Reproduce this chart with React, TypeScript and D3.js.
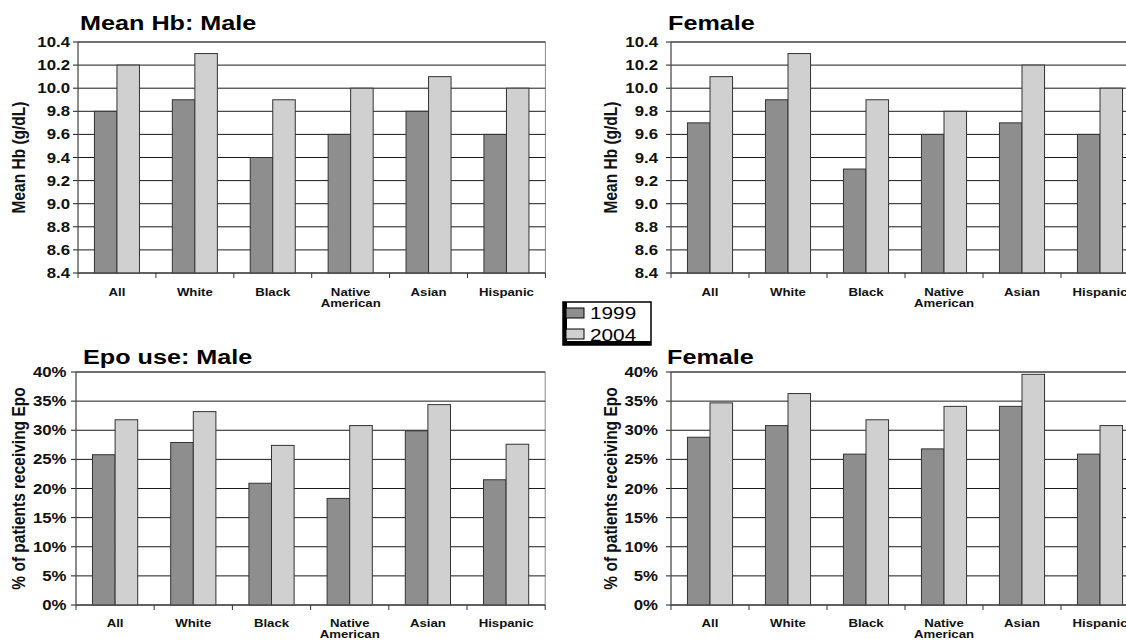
import React from "react";
import * as d3 from "d3";

const categories = ["All", "White", "Black", "Native\nAmerican", "Asian", "Hispanic"];
const years = ["1999", "2004"];

const hbMale1999 = [9.8, 9.9, 9.4, 9.6, 9.8, 9.6];
const hbMale2004 = [10.2, 10.3, 9.9, 10.0, 10.1, 10.0];
const hbFemale1999 = [9.7, 9.9, 9.3, 9.6, 9.7, 9.6];
const hbFemale2004 = [10.1, 10.3, 9.9, 9.8, 10.2, 10.0];

const epoMale1999 = [0.258, 0.279, 0.209, 0.183, 0.299, 0.215];
const epoMale2004 = [0.318, 0.332, 0.274, 0.308, 0.344, 0.276];
const epoFemale1999 = [0.288, 0.308, 0.259, 0.268, 0.341, 0.259];
const epoFemale2004 = [0.347, 0.363, 0.318, 0.341, 0.396, 0.308];

const hbTicks = [8.4, 8.6, 8.8, 9.0, 9.2, 9.4, 9.6, 9.8, 10.0, 10.2, 10.4];
const epoTicks = [0, 0.05, 0.1, 0.15, 0.2, 0.25, 0.3, 0.35, 0.4];

const FONT = "'Liberation Sans', Arial, Helvetica, sans-serif";
const SX = 1.2;
const C1999 = "#8e8e8e";
const C2004 = "#d0d0d0";

type PanelProps = {
  title: string;
  yLabel: string;
  s1999: number[];
  s2004: number[];
  ticks: number[];
  domain: [number, number];
  fmt: (v: number) => string;
  left: number;
  bandW: number;
  top: number;
  bottom: number;
  tickLabelGap: number;
  yLabelX: number;
  titleX: number;
  titleY: number;
  catY: number;
};

function Panel(p: PanelProps) {
  const right = p.left + p.bandW * categories.length;
  const x = d3.scaleBand<string>().domain(categories).range([p.left, right]).padding(0);
  const B = x.bandwidth();
  const w = B / 3.46;
  const y = d3.scaleLinear().domain(p.domain).range([p.bottom, p.top]);
  const sub = d3.scaleBand<string>().domain(years).range([0, 2 * w]).padding(0);
  const series = [p.s1999, p.s2004];
  const colors = [C1999, C2004];
  return (
    <g>
      <rect x={p.left} y={p.top} width={right - p.left} height={p.bottom - p.top} fill="#fff" stroke="#8a8a8a" strokeWidth={1} />
      {p.ticks.map((t, i) => (
        <g key={"g" + i}>
          <line x1={p.left - 5} x2={right} y1={y(t)} y2={y(t)} stroke="#1a1a1a" strokeWidth={1} />
          <text
            transform={`translate(${p.left - p.tickLabelGap},${y(t) + 5}) scale(${SX},1)`}
            textAnchor="end"
            fontFamily={FONT}
            fontWeight="bold"
            fontSize={14}
            fill="#111"
          >
            {p.fmt(t)}
          </text>
        </g>
      ))}
      {categories.map((c, ci) =>
        series.map((s, si) => {
          const x0 = (x(c) as number) + (B - 2 * w) / 2 + (sub(years[si]) as number);
          return (
            <rect
              key={c + si}
              x={x0}
              y={y(s[ci])}
              width={sub.bandwidth()}
              height={p.bottom - y(s[ci])}
              fill={colors[si]}
              stroke="#333"
              strokeWidth={1}
            />
          );
        })
      )}
      <line x1={p.left} x2={p.left} y1={p.top} y2={p.bottom} stroke="#555" strokeWidth={1} />
      <line x1={p.left} x2={right} y1={p.bottom} y2={p.bottom} stroke="#555" strokeWidth={1} />
      {categories.concat(["end"]).map((c, i) => {
        const xx = p.left + i * B;
        return <line key={"t" + i} x1={xx} x2={xx} y1={p.bottom} y2={p.bottom + 5} stroke="#333" strokeWidth={1} />;
      })}
      {categories.map((c) => {
        const cx = (x(c) as number) + B / 2;
        const lines = c.split("\n");
        return lines.map((ln, li) => (
          <text
            key={c + li}
            transform={`translate(${cx},${p.catY + li * 11}) scale(${SX},1)`}
            textAnchor="middle"
            fontFamily={FONT}
            fontWeight="bold"
            fontSize={11}
            fill="#111"
          >
            {ln}
          </text>
        ));
      })}
      <text
        transform={`translate(${p.yLabelX},${(p.top + p.bottom) / 2}) scale(${SX},1) rotate(-90)`}
        textAnchor="middle"
        fontFamily={FONT}
        fontWeight="bold"
        fontSize={15.5}
        fill="#111"
        dy="0.35em"
      >
        {p.yLabel}
      </text>
      <text
        transform={`translate(${p.titleX},${p.titleY}) scale(${SX},1)`}
        fontFamily={FONT}
        fontWeight="bold"
        fontSize={21}
        fill="#000"
      >
        {p.title}
      </text>
    </g>
  );
}

export default function App() {
  const hbFmt = (v: number) => d3.format(".1f")(v);
  const pctFmt = (v: number) => d3.format(".0%")(v);
  return (
    <svg width={1126} height={644} style={{ position: "absolute", left: 0, top: 0, background: "#fff" }}>
      <rect x={0} y={0} width={1126} height={644} fill="#fff" />
      <Panel
        title="Mean Hb: Male"
        yLabel="Mean Hb (g/dL)"
        s1999={hbMale1999}
        s2004={hbMale2004}
        ticks={hbTicks}
        domain={[8.4, 10.4]}
        fmt={hbFmt}
        left={78}
        bandW={77.9}
        top={42}
        bottom={273}
        tickLabelGap={8}
        yLabelX={18}
        titleX={80}
        titleY={30}
        catY={296}
      />
      <Panel
        title="Female"
        yLabel="Mean Hb (g/dL)"
        s1999={hbFemale1999}
        s2004={hbFemale2004}
        ticks={hbTicks}
        domain={[8.4, 10.4]}
        fmt={hbFmt}
        left={671}
        bandW={78}
        top={42}
        bottom={273}
        tickLabelGap={13}
        yLabelX={610}
        titleX={668}
        titleY={30}
        catY={296}
      />
      <Panel
        title="Epo use: Male"
        yLabel="% of patients receiving Epo"
        s1999={epoMale1999}
        s2004={epoMale2004}
        ticks={epoTicks}
        domain={[0, 0.4]}
        fmt={pctFmt}
        left={76}
        bandW={78.2}
        top={372}
        bottom={605}
        tickLabelGap={9.5}
        yLabelX={18}
        titleX={83}
        titleY={364}
        catY={627}
      />
      <Panel
        title="Female"
        yLabel="% of patients receiving Epo"
        s1999={epoFemale1999}
        s2004={epoFemale2004}
        ticks={epoTicks}
        domain={[0, 0.4]}
        fmt={pctFmt}
        left={671}
        bandW={78}
        top={372}
        bottom={605}
        tickLabelGap={13}
        yLabelX={610}
        titleX={667}
        titleY={364}
        catY={627}
      />
      <g>
        <rect x={563} y={302} width={88} height={43} fill="#fff" stroke="#000" strokeWidth={1.5} />
        <rect x={563} y={302} width={4} height={43} fill="#000" />
        <rect x={563} y={341} width={88} height={4} fill="#000" />
        {years.map((yr, i) => (
          <g key={yr}>
            <rect x={566} y={308 + i * 21} width={18} height={10} fill={i === 0 ? C1999 : C2004} stroke="#000" strokeWidth={1} />
            <text
              transform={`translate(590,${319 + i * 22}) scale(1.3,1)`}
              fontFamily={FONT}
              fontSize={16}
              fill="#000"
            >
              {yr}
            </text>
          </g>
        ))}
      </g>
    </svg>
  );
}
